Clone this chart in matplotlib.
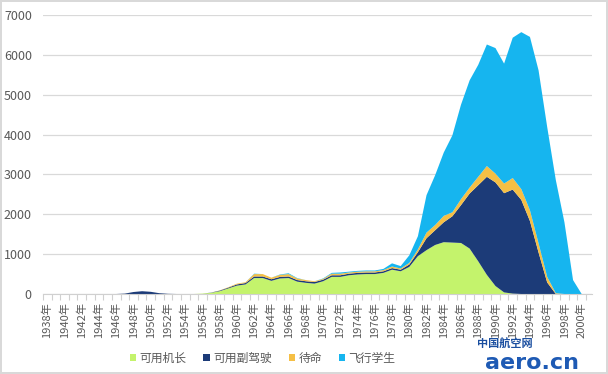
import numpy as np
import matplotlib
matplotlib.use("Agg")
import matplotlib.pyplot as plt
from matplotlib.patches import Patch

plt.rcParams['font.family'] = ['Noto Sans CJK SC', 'DejaVu Sans']

years = list(range(1938, 2001))
series_names = ['可用机长', '可用副驾驶', '待命', '飞行学生']
colors = ['#C4F36C', '#1C3B78', '#F5BF45', '#16B5EF']

# values per year, 1938..2000
captains = [0] * 18 + [
    10, 30, 70, 140, 210, 240, 400, 400, 330, 390,      # 1956-1965
    400, 310, 280, 260, 320, 430, 430, 470, 490, 500,   # 1966-1975
    500, 530, 610, 570, 680, 950, 1100, 1230, 1300, 1290,  # 1976-1985
    1280, 1140, 820, 480, 200, 40, 10, 0, 0, 0,         # 1986-1995
    0, 0, 0, 0, 0]                                      # 1996-2000
copilots = [0] * 9 + [
    10, 50, 70, 55, 20, 5, 0, 0, 0,                     # 1947-1955
    0, 5, 15, 20, 30, 35, 40, 40, 40, 40,               # 1956-1965
    40, 40, 40, 40, 40, 40, 40, 40, 40, 40,             # 1966-1975
    40, 40, 40, 40, 60, 100, 300, 370, 500, 660,        # 1976-1985
    950, 1380, 1910, 2460, 2600, 2490, 2610, 2360, 1830, 1040,  # 1986-1995
    290, 0, 0, 0, 0]                                    # 1996-2000
standby = [0] * 18 + [
    0, 0, 5, 10, 20, 20, 60, 60, 40, 50,                # 1956-1965
    60, 40, 30, 20, 20, 40, 40, 30, 30, 30,             # 1966-1975
    30, 30, 40, 30, 40, 70, 140, 130, 160, 100,         # 1976-1985
    150, 150, 210, 270, 220, 240, 290, 270, 270, 230,   # 1986-1995
    140, 20, 0, 0, 0]                                   # 1996-2000
students = [0] * 18 + [
    0, 0, 0, 0, 0, 0, 10, 0, 0, 10,                     # 1956-1965
    20, 10, 0, 0, 10, 20, 30, 20, 20, 20,               # 1966-1975
    20, 30, 80, 60, 190, 330, 940, 1250, 1590, 1930,    # 1976-1985
    2370, 2690, 2810, 3050, 3150, 3010, 3520, 3940, 4350, 4340,  # 1986-1995
    3760, 2840, 1800, 350, 0]                           # 1996-2000

fig = plt.figure(figsize=(6.08, 3.74), dpi=100)
fig.patch.set_facecolor('white')
fig.patch.set_edgecolor('#D9D9D9')
fig.patch.set_linewidth(1.5)
ax = fig.add_axes([0.0707, 0.2139, 0.903, 0.746])

ax.stackplot(years, captains, copilots, standby, students,
             colors=colors, linewidth=0, zorder=3)

ax.set_xlim(1937.6, 2001.2)
ax.set_ylim(0, 7000)
ax.set_yticks(range(0, 7001, 1000))
ax.tick_params(axis='y', length=0, labelsize=9, labelcolor='#595959', pad=8)
ax.grid(axis='y', color='#D9D9D9', linewidth=0.9, zorder=0)

ax.set_xticks(years[::2])
ax.set_xticklabels([f'{y}年' for y in years[::2]], rotation=90)
ax.tick_params(axis='x', length=0, labelsize=8, labelcolor='#595959', pad=6)
ax.set_xticks([y - 0.5 for y in years] + [2000.5], minor=True)
ax.tick_params(axis='x', which='minor', length=4, color='#D0D0D0', width=0.8)

for s in ['top', 'right', 'left']:
    ax.spines[s].set_visible(False)
ax.spines['bottom'].set_color('#D0D0D0')
ax.spines['bottom'].set_zorder(4)

handles = [Patch(facecolor=c, edgecolor='none') for c in colors]
fig.legend(handles, series_names, loc='center', bbox_to_anchor=(0.432, 0.042),
           ncol=4, frameon=False, fontsize=8.5, handlelength=0.55,
           handleheight=0.55, handletextpad=0.3, columnspacing=1.4,
           labelcolor='#595959')

# watermark
fig.text(0.83, 0.078, '中国航空网', color='#1B4FA0', fontsize=8,
         fontweight='bold', ha='center', va='center')
fig.text(0.875, 0.03, 'aero.cn', color='#1E5AB4', fontsize=16,
         fontweight='bold', ha='center', va='center', family='DejaVu Sans')

fig.savefig('out.png', dpi=100)
